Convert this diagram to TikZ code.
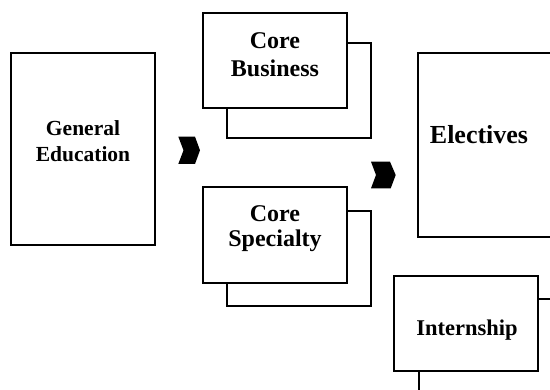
\documentclass[tikz,border=0pt]{standalone}
\usepackage{fontspec}
\setmainfont{Liberation Serif}
\begin{document}
\begin{tikzpicture}[x=1pt,y=-1pt,
  box/.style={draw=black,line width=1.6pt,fill=white,rectangle,inner sep=0pt},
  backbox/.style={draw=black,line width=1.6pt},
  lbl/.style={align=center,font=\bfseries,inner sep=0pt},
  chev/.style={fill=black}]
\useasboundingbox (0,0) rectangle (550,390);
\clip (0,0) rectangle (550,390);
% General Education
\node[box,minimum width=144pt,minimum height=192pt] (gen) at (83,149) {};
\node[lbl,font=\fontsize{21.5}{26}\selectfont\bfseries] (gent) at (83,141) {General\\Education};
% Chevron 1
\fill[chev] (178.3,136.7) -- (195,136.7) -- (200,150.3) -- (195,164) -- (178.3,164) -- (183.5,150.3) -- cycle;
% Core Business
\draw[backbox] (227,43) rectangle (371,138);
\node[box,minimum width=144pt,minimum height=95pt] (cb) at (275,60.5) {};
\node[lbl,font=\fontsize{24}{28}\selectfont\bfseries] (cbt) at (275,55) {Core\\Business};
% Core Specialty
\draw[backbox] (227,211) rectangle (371,306);
\node[box,minimum width=144pt,minimum height=96pt] (cs) at (275,235) {};
\node[lbl,font=\fontsize{24}{25}\selectfont\bfseries] (cst) at (275,229) {Core\\Specialty};
% Chevron 2
\fill[chev] (371,161.7) -- (390,161.7) -- (395.7,175) -- (390.7,188.3) -- (371,188.3) -- (376,175) -- cycle;
% Electives
\node[box,minimum width=144pt,minimum height=184pt] (el) at (490,145) {};
\node[lbl,font=\fontsize{26}{28}\selectfont\bfseries] (elt) at (479,135) {Electives};
% Internship
\draw[backbox] (419,299) rectangle (563,400);
\node[box,minimum width=144pt,minimum height=95pt] (in) at (466,323.5) {};
\node[lbl,font=\fontsize{22.5}{26}\selectfont\bfseries] (int) at (467,330) {Internship};
\end{tikzpicture}
\end{document}
